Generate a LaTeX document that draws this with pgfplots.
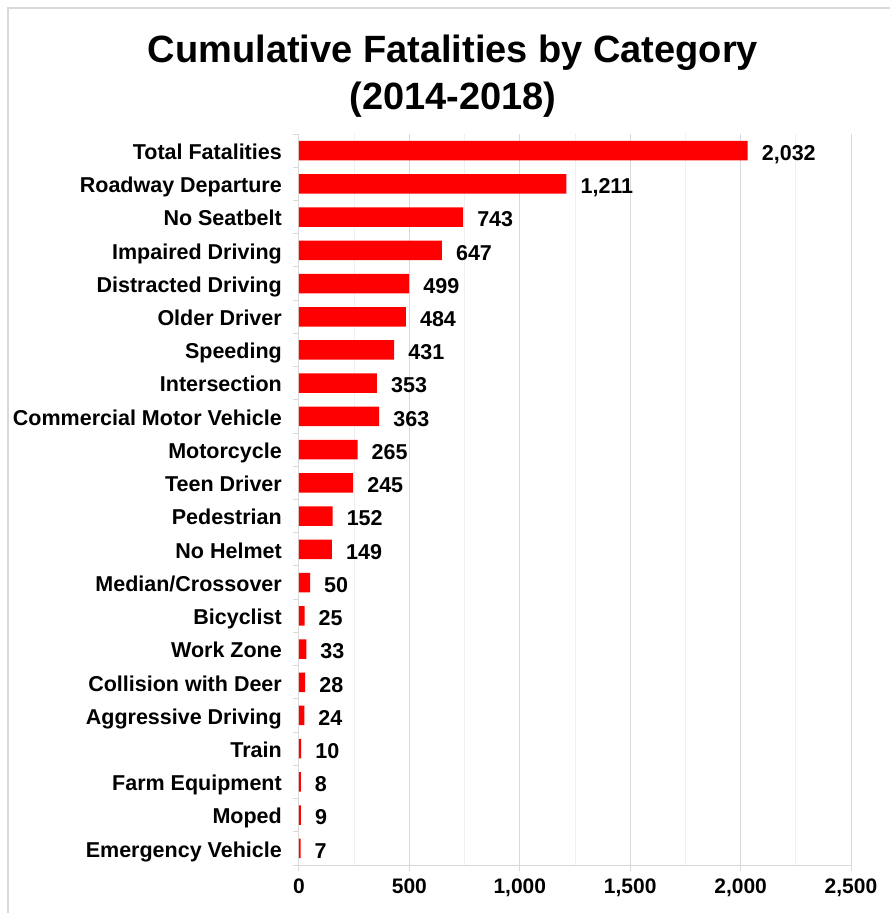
\documentclass[border=0pt]{standalone}
\usepackage{fontspec}
\setmainfont{Liberation Sans}
\usepackage{pgfplots}
\pgfplotsset{compat=1.18}
\definecolor{gridmaj}{HTML}{D9D9D9}
\definecolor{gridmin}{HTML}{F0F0F0}
\definecolor{barred}{HTML}{FF0000}
\begin{document}
\begin{tikzpicture}[x=1pt,y=1pt]
\useasboundingbox (0,0) rectangle (890,-913);
\draw[gridmaj, line width=2pt] (8,-930) -- (8,-8) -- (900,-8);
\node[font=\bfseries\fontsize{38}{47}\selectfont, align=center] at (453,-76) {Cumulative Fatalities by Category\\(2014-2018)};
\begin{axis}[
  at={(299pt,-865pt)}, anchor=south west,
  width=552pt, height=731pt, scale only axis,
  xbar, bar width=19.5pt,
  xmin=0, xmax=2500, ymin=-0.5, ymax=21.5, y dir=reverse,
  axis x line*=bottom, axis y line*=left,
  axis line style={gridmaj, line width=1pt},
  tick align=outside, major tick length=6pt, minor tick length=6pt,
  xtick={0,500,...,2500},
  major x tick style={gridmaj, line width=1pt},
  xmajorgrids, major grid style={gridmaj, line width=1pt},
  extra x ticks={250,750,1250,1750,2250},
  extra x tick labels={},
  extra x tick style={grid=major, major grid style={gridmin, line width=1pt}, major tick length=0pt},
  ytick={0,...,21},
  minor ytick={-0.5,0.5,...,21.5},
  major y tick style={draw=none},
  minor y tick style={gridmaj, line width=1pt},
  yticklabels={Total Fatalities, Roadway Departure, No Seatbelt, Impaired Driving, Distracted Driving, Older Driver, Speeding, Intersection, Commercial Motor Vehicle, Motorcycle, Teen Driver, Pedestrian, No Helmet, Median/Crossover, Bicyclist, Work Zone, Collision with Deer, Aggressive Driving, Train, Farm Equipment, Moped, Emergency Vehicle},
  yticklabel style={font=\bfseries\fontsize{21.5}{25}\selectfont, inner sep=0pt, xshift=-11pt, anchor=east, text height=15.5pt, text depth=0pt, yshift=-1pt},
  xticklabel style={font=\bfseries\fontsize{21}{25}\selectfont, inner sep=0pt, yshift=-8pt},
  /pgf/number format/1000 sep={,},
  /pgf/number format/assume math mode=true,
  nodes near coords,
  nodes near coords style={font=\bfseries\fontsize{21.5}{25}\selectfont, black, inner sep=0pt, xshift=14pt, anchor=west, text height=15.5pt, text depth=0pt, yshift=-2pt, /pgf/number format/1000 sep={,}, /pgf/number format/assume math mode=true},
]
\addplot[fill=barred, draw=none] coordinates {
(2032,0) (1211,1) (743,2) (647,3) (499,4) (484,5) (431,6) (353,7) (363,8) (265,9) (245,10) (152,11) (149,12) (50,13) (25,14) (33,15) (28,16) (24,17) (10,18) (8,19) (9,20) (7,21)
};
\end{axis}
\end{tikzpicture}
\end{document}
